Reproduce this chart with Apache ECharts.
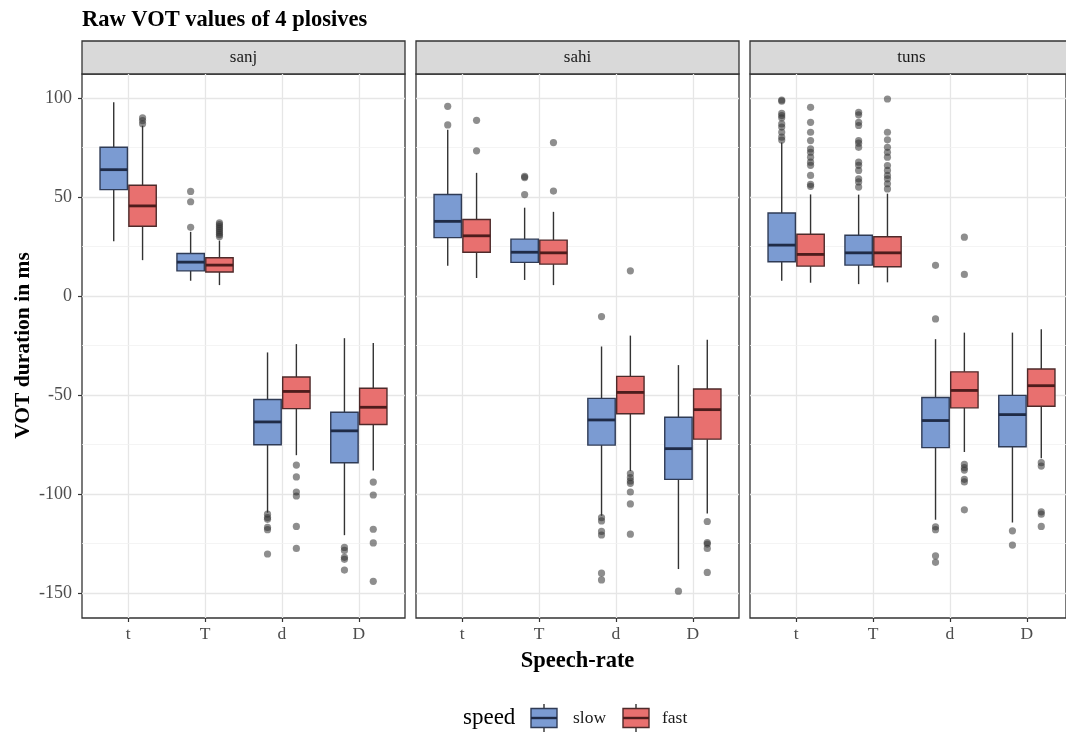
<!DOCTYPE html>
<html>
<head>
<meta charset="utf-8">
<script src="https://cdn.jsdelivr.net/npm/echarts@6/dist/echarts.min.js"></script>
<style>
  html, body { margin: 0; padding: 0; background: #fff; }
  #chart { width: 1066px; height: 733px; }
</style>
</head>
<body>
<div id="chart"></div>
<script>
// ---- data ----
const speakers = ['sanj', 'sahi', 'tuns'];
const plosives = ['t', 'T', 'd', 'D'];
const speeds = ['slow', 'fast'];
const yTickValues = [-150, -100, -50, 0, 50, 100];

// box statistics per plosive: [lower whisker, Q1, median, Q3, upper whisker]
const sanjSlow = [
  [27.7, 53.7, 63.8, 75.1, 97.8],
  [7.7, 12.7, 17.1, 21.5, 32.4],
  [-109.4, -75.1, -63.6, -52.3, -28.5],
  [-120.8, -84.2, -68.1, -58.7, -21.3]
];
const sanjFast = [
  [18.1, 35.2, 45.5, 55.9, 86],
  [5.5, 12.1, 15.6, 19.3, 28],
  [-80.4, -56.9, -48.2, -40.9, -24.3],
  [-88.1, -64.9, -56.2, -46.6, -23.8]
];
const sahiSlow = [
  [15.3, 29.5, 37.7, 51.3, 84],
  [8.1, 17, 22.1, 28.7, 44.6],
  [-111, -75.3, -62.6, -51.7, -25.5],
  [-137.9, -92.6, -77.1, -61.2, -34.9]
];
const sahiFast = [
  [9.1, 22.1, 30.4, 38.6, 62.2],
  [5.5, 16.1, 21.8, 28.2, 42.5],
  [-88.4, -59.5, -48.7, -40.6, -20],
  [-109.8, -72.3, -57.4, -47, -22.1]
];
const tunsSlow = [
  [7.7, 17.3, 25.7, 41.9, 77.5],
  [6, 15.6, 21.8, 30.7, 51.2],
  [-113, -76.6, -62.9, -51.3, -21.8],
  [-114.4, -76.1, -59.9, -50.2, -18.5]
];
const tunsFast = [
  [6.7, 15.1, 21, 31.2, 51.3],
  [6.9, 14.8, 21.8, 29.9, 51.7],
  [-78.8, -56.5, -47.7, -38.3, -18.5],
  [-82, -55.7, -45.3, -36.9, -16.8]
];

// outlying values per plosive (t, T, d, D)
const sanjSlowOut = [
  [],
  [52.8, 47.6, 34.7],
  [-110.2, -111.9, -112.8, -116.9, -118, -130.3],
  [-127, -128.5, -132, -133, -138.4]
];
const sanjFastOut = [
  [90, 88.6, 87],
  [37, 36, 35, 34, 33, 32, 31, 30],
  [-85.4, -91.4, -99, -101, -116.4, -127.5],
  [-94, -100.5, -117.8, -124.7, -144.1]
];
const sahiSlowOut = [
  [95.8, 86.4],
  [60.4, 59.8, 51.2],
  [-10.4, -111.9, -113.6, -118.9, -120.7, -140, -143.4],
  [-149.1]
];
const sahiFastOut = [
  [88.7, 73.3],
  [77.5, 53],
  [12.7, -89.7, -91.7, -93.4, -94.6, -99, -105, -120.3],
  [-113.9, -124.5, -125.3, -127.5, -139.6]
];
const tunsSlowOut = [
  [99, 98.4, 92.3, 91.1, 90, 86.9, 85.3, 82.7, 80.2, 78.8],
  [92.8, 91.5, 87.7, 86.1, 78.5, 77.2, 75.1, 67.6, 66, 63.4, 59.2, 57.6, 55],
  [15.5, -11.6, -116.6, -118, -131.2, -134.5],
  [-118.6, -125.8]
];
const tunsFastOut = [
  [95.3, 87.7, 82.7, 78.5, 74.3, 72.6, 70.1, 67.6, 66, 60.9, 56.4, 55.4],
  [99.5, 82.7, 78.9, 75.1, 72.6, 70.1, 65.9, 63.4, 60.9, 59.2, 56.7, 54.1],
  [29.7, 10.9, -85, -86.7, -87.9, -92.6, -93.9, -108],
  [-84.2, -85.9, -109, -110.2, -116.4]
];

const boxStats = {
  sanj: [sanjSlow, sanjFast],
  sahi: [sahiSlow, sahiFast],
  tuns: [tunsSlow, tunsFast]
};
const outliers = {
  sanj: [sanjSlowOut, sanjFastOut],
  sahi: [sahiSlowOut, sahiFastOut],
  tuns: [tunsSlowOut, tunsFastOut]
};

// ---- layout & style ----
const FONT = '"Liberation Serif", "Times New Roman", serif';
const panelLeft = [82, 416, 750];
const panelW = 323;
const panelTop = 74;
const panelH = 544;
const stripTop = 41;
const stripH = 33;
const pxPerUnit = 1.98;               // vertical pixels per ms
const majorTopY = 98;                 // pixel row of the top major break
const yTop = yTickValues[yTickValues.length - 1] + (majorTopY - panelTop) / pxPerUnit;
const yBottom = yTop - panelH / pxPerUnit;
const expand = 0.6;                   // discrete axis padding, in category units
const catUnit = panelW / (plosives.length - 1 + 2 * expand);

const fills = ['#7b9bd2', '#e8706f'];
const edges = ['#2f3b55', '#4e2a2a'];
const medians = ['#1f2b47', '#4d1c1c'];
const dodge = [-1, 1];

function boxRenderer(s) {
  return function (params, api) {
    const i = api.value(0);
    const bw = api.size([1, 0])[0];
    const cx = api.coord([i, 0])[0] + dodge[s] * bw * 0.1875;
    const half = bw * 0.178;
    const yLo = api.coord([i, api.value(1)])[1];
    const yQ1 = api.coord([i, api.value(2)])[1];
    const yMed = api.coord([i, api.value(3)])[1];
    const yQ3 = api.coord([i, api.value(4)])[1];
    const yHi = api.coord([i, api.value(5)])[1];
    return {
      type: 'group',
      children: [
        { type: 'line', shape: { x1: cx, y1: yHi, x2: cx, y2: yQ3 }, style: { stroke: '#333', lineWidth: 1.4 } },
        { type: 'line', shape: { x1: cx, y1: yQ1, x2: cx, y2: yLo }, style: { stroke: '#333', lineWidth: 1.4 } },
        { type: 'rect', shape: { x: cx - half, y: yQ3, width: 2 * half, height: yQ1 - yQ3 },
          style: { fill: fills[s], stroke: edges[s], lineWidth: 1.4 } },
        { type: 'line', shape: { x1: cx - half, y1: yMed, x2: cx + half, y2: yMed },
          style: { stroke: medians[s], lineWidth: 2.8 } }
      ]
    };
  };
}

function pointRenderer(s) {
  return function (params, api) {
    const i = api.value(0);
    const bw = api.size([1, 0])[0];
    const p = api.coord([i, api.value(1)]);
    return {
      type: 'circle',
      shape: { cx: p[0] + dodge[s] * bw * 0.1875, cy: p[1], r: 3.6 },
      style: { fill: 'rgba(50,50,50,0.55)' }
    };
  };
}

const grids = [], xAxes = [], yAxes = [], series = [], graphics = [];

speakers.forEach(function (sp, p) {
  const L = panelLeft[p];
  const g0 = grids.length;
  // panel frame
  grids.push({ left: L, top: panelTop, width: panelW, height: panelH, show: true,
    backgroundColor: '#fff', borderColor: '#333', borderWidth: 1.3 });
  xAxes.push({ gridIndex: g0, type: 'value', show: false });
  yAxes.push({ gridIndex: g0, type: 'value', show: false });

  // horizontal breaks
  grids.push({ left: L, top: majorTopY, width: panelW, height: (yTickValues[yTickValues.length - 1] - yTickValues[0]) * pxPerUnit });
  xAxes.push({ gridIndex: g0 + 1, type: 'value', show: false, min: 0, max: 1 });
  yAxes.push({
    gridIndex: g0 + 1, type: 'value',
    min: yTickValues[0], max: yTickValues[yTickValues.length - 1], interval: 50,
    axisLine: { show: false, onZero: false },
    axisTick: { show: p === 0, length: 4, lineStyle: { color: '#333', width: 1.2 } },
    axisLabel: { show: p === 0, margin: 10, color: '#4d4d4d', fontSize: 18, fontFamily: FONT },
    splitLine: { show: true, lineStyle: { color: '#e6e6e6', width: 1.3 } },
    minorTick: { show: false, splitNumber: 2 },
    minorSplitLine: { show: true, lineStyle: { color: '#f1f1f1', width: 0.8 } },
    name: p === 0 ? 'VOT duration in ms' : '',
    nameLocation: 'middle', nameGap: 48,
    nameTextStyle: { fontFamily: FONT, fontWeight: 'bold', fontSize: 21.5, color: '#000' },
    z: 1
  });

  // data area with the discrete plosive axis
  grids.push({ left: L + (expand - 0.5) * catUnit, top: panelTop, width: plosives.length * catUnit, height: panelH });
  xAxes.push({
    gridIndex: g0 + 2, type: 'category', data: plosives, boundaryGap: true, position: 'bottom',
    axisLine: { show: false, onZero: false },
    axisTick: { show: true, alignWithLabel: true, length: 4, lineStyle: { color: '#333', width: 1.2 } },
    axisLabel: { margin: 7, color: '#4d4d4d', fontSize: 17.5, fontFamily: FONT },
    splitLine: { show: true, alignWithLabel: true, lineStyle: { color: '#e6e6e6', width: 1.3 } }
  });
  yAxes.push({ gridIndex: g0 + 2, type: 'value', min: yBottom, max: yTop, show: false });

  speeds.forEach(function (spd, s) {
    series.push({
      type: 'custom', name: spd, xAxisIndex: g0 + 2, yAxisIndex: g0 + 2,
      encode: { x: 0, y: [1, 2, 3, 4, 5] },
      data: boxStats[sp][s].map(function (b, i) { return [i].concat(b); }),
      renderItem: boxRenderer(s), z: 3
    });
  });
  speeds.forEach(function (spd, s) {
    const pts = [];
    outliers[sp][s].forEach(function (vals, i) {
      vals.forEach(function (v) { pts.push([i, v]); });
    });
    series.push({
      type: 'custom', name: spd + ' outliers', xAxisIndex: g0 + 2, yAxisIndex: g0 + 2,
      encode: { x: 0, y: 1 },
      data: pts, renderItem: pointRenderer(s), z: 4
    });
  });

  // facet strip
  graphics.push({ type: 'rect', shape: { x: L, y: stripTop, width: panelW, height: stripH },
    style: { fill: '#d9d9d9', stroke: '#333', lineWidth: 1.3 } });
  graphics.push({ type: 'text', x: L + panelW / 2, y: stripTop + stripH / 2,
    style: { text: sp, font: '17px ' + FONT, fill: '#1a1a1a', align: 'center', verticalAlign: 'middle' } });
});

// x-axis title across the facets
graphics.push({ type: 'text', x: (panelLeft[0] + panelLeft[2] + panelW) / 2, y: 661,
  style: { text: 'Speech-rate', font: 'bold 22.5px ' + FONT, fill: '#000', align: 'center', verticalAlign: 'middle' } });

// legend: title plus boxplot keys
const legendY = 718;
graphics.push({ type: 'text', x: 463, y: legendY,
  style: { text: 'speed', font: '23px ' + FONT, fill: '#000', align: 'left', verticalAlign: 'middle' } });
const keyX = [531, 623];
const labelX = [573, 662];
speeds.forEach(function (spd, s) {
  const x = keyX[s];
  graphics.push({ type: 'line', shape: { x1: x + 13, y1: legendY - 14, x2: x + 13, y2: legendY + 14 },
    style: { stroke: '#333', lineWidth: 1.4 } });
  graphics.push({ type: 'rect', shape: { x: x, y: legendY - 9.5, width: 26, height: 19 },
    style: { fill: fills[s], stroke: edges[s], lineWidth: 1.4 } });
  graphics.push({ type: 'line', shape: { x1: x, y1: legendY, x2: x + 26, y2: legendY },
    style: { stroke: medians[s], lineWidth: 2.4 } });
  graphics.push({ type: 'text', x: labelX[s], y: legendY,
    style: { text: spd, font: '17.5px ' + FONT, fill: '#1a1a1a', align: 'left', verticalAlign: 'middle' } });
});

const chart = echarts.init(document.getElementById('chart'), null, { renderer: 'canvas' });
chart.setOption({
  animation: false,
  backgroundColor: '#fff',
  title: {
    text: 'Raw VOT values of 4 plosives', left: 77, top: 4,
    textStyle: { fontFamily: FONT, fontWeight: 'bold', fontSize: 22.5, color: '#000' }
  },
  grid: grids,
  xAxis: xAxes,
  yAxis: yAxes,
  series: series,
  graphic: graphics
});
</script>
</body>
</html>
